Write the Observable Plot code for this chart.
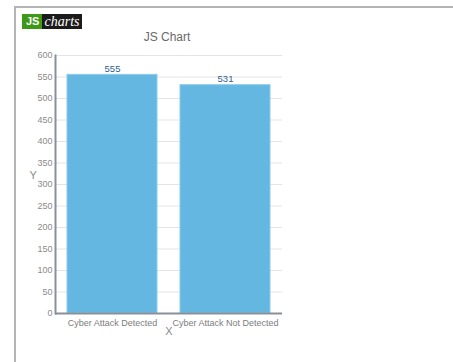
<!DOCTYPE html>
<html>
<head>
<meta charset="utf-8">
<script src="https://cdn.jsdelivr.net/npm/d3@7"></script>
<script src="https://cdn.jsdelivr.net/npm/@observablehq/plot@0.6"></script>
<style>
  html, body { margin: 0; padding: 0; background: #fff; }
  #wrap { position: relative; width: 453px; height: 362px; overflow: hidden; font-family: "Liberation Sans", Arial, sans-serif; }
  #border { position: absolute; left: 14px; top: 6px; width: 600px; height: 600px; border-left: 2px solid #b4b4b4; border-top: 2px solid #b4b4b4; }
  #logo { position: absolute; left: 22px; top: 14px; height: 15px; display: flex; line-height: 15px; }
  #logo .js { background: #3d9a16; color: #fff; font-weight: bold; font-size: 11px; padding: 0 3px 0 4px; }
  #logo .charts { background: #1b1b1b; color: #fff; font-family: "Liberation Serif", "Times New Roman", serif; font-style: italic; font-size: 14px; padding: 0 3px 0 2px; }
  #chart { position: absolute; left: 0; top: 0; }
</style>
</head>
<body>
<div id="wrap">
  <div id="border"></div>
  <div id="chart"></div>
  <div id="logo"><span class="js">JS</span><span class="charts">charts</span></div>
</div>
<script>
// Detection counts
const categories = ["Cyber Attack Detected", "Cyber Attack Not Detected"];
const counts = [555, 531];
const yTicks = [0, 50, 100, 150, 200, 250, 300, 350, 400, 450, 500, 550, 600];
const title = "JS Chart";

const rows = categories.map((c, i) => ({category: c, count: counts[i]}));
const font = "Liberation Sans, Arial, sans-serif";

const chart = Plot.plot({
  width: 453,
  height: 362,
  marginLeft: 55,
  marginRight: 171,
  marginTop: 55,
  marginBottom: 49,
  style: {fontFamily: font, background: "transparent", overflow: "visible"},
  x: {domain: categories, paddingInner: 0.2, paddingOuter: 0.1},
  y: {domain: [0, 600]},
  marks: [
    Plot.gridY(yTicks, {stroke: "#e4e4e4", strokeOpacity: 1}),
    Plot.barY(rows, {x: "category", y: "count", fill: "#63b7e0", stroke: "#8ccbea", strokeWidth: 1}),
    Plot.text(rows, {x: "category", y: "count", text: d => String(d.count), dy: -6, fill: "#2f5f8f", fontSize: 9.5}),
    Plot.axisY(yTicks, {tickSize: 0, tickPadding: 3, fontSize: 9, fill: "#8a8a8a", label: null}),
    Plot.axisX({tickSize: 0, tickPadding: 6, fontSize: 9, fill: "#7d7d7d", label: null}),
    Plot.frame({anchor: "left", stroke: "#8a909a", strokeWidth: 2}),
    Plot.ruleY([0], {stroke: "#8a909a", strokeWidth: 2}),
    Plot.text(["Y"], {frameAnchor: "left", dx: -26, dy: -9, fontSize: 11, fill: "#8a8a8a"}),
    Plot.text(["X"], {frameAnchor: "bottom", dy: 21, fontSize: 11, fill: "#8a8a8a"}),
    Plot.text([title], {frameAnchor: "top", dx: -2, dy: -23, fontSize: 12, fill: "#6a6a6a"})
  ]
});
document.getElementById("chart").appendChild(chart);
</script>
</body>
</html>
